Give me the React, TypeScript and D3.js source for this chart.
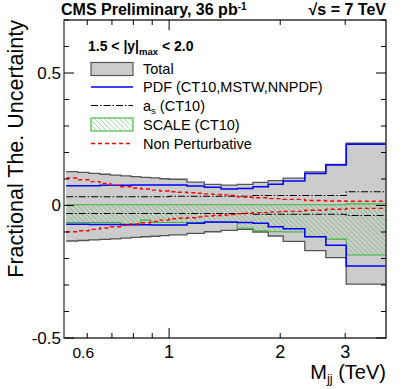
import React from "react";
import * as d3 from "d3";

// bin edges of the dijet mass (TeV)
const binEdges = [
  0.526, 0.565, 0.606, 0.649, 0.693, 0.74, 0.788, 0.838, 0.89, 0.944, 1.0,
  1.058, 1.118, 1.181, 1.246, 1.313, 1.383, 1.455, 1.53, 1.607, 1.687, 1.856,
  2.037, 2.332, 2.659, 3.019, 3.854,
];

const totalUp = [
  0.128, 0.125, 0.121, 0.118, 0.115, 0.112, 0.109, 0.106, 0.104, 0.101, 0.099,
  0.099, 0.088, 0.088, 0.08, 0.08, 0.077, 0.077, 0.08, 0.08, 0.087, 0.094,
  0.103, 0.127, 0.155, 0.235,
];
const totalDown = [
  -0.134, -0.132, -0.13, -0.128, -0.126, -0.123, -0.12, -0.118, -0.116, -0.114,
  -0.111, -0.111, -0.105, -0.105, -0.099, -0.099, -0.094, -0.094, -0.09, -0.09,
  -0.1, -0.115, -0.135, -0.17, -0.197, -0.297,
];
const pdfUp = [
  0.075, 0.075, 0.075, 0.076, 0.076, 0.076, 0.077, 0.077, 0.077, 0.077, 0.077,
  0.077, 0.074, 0.074, 0.069, 0.069, 0.062, 0.062, 0.064, 0.064, 0.071, 0.08,
  0.092, 0.121, 0.153, 0.231,
];
const pdfDown = [
  -0.071, -0.071, -0.072, -0.072, -0.072, -0.073, -0.073, -0.073, -0.074,
  -0.074, -0.074, -0.074, -0.067, -0.067, -0.062, -0.062, -0.062, -0.062,
  -0.064, -0.064, -0.067, -0.08, -0.088, -0.118, -0.15, -0.228,
];
const asUp = [
  0.033, 0.033, 0.033, 0.033, 0.033, 0.033, 0.033, 0.033, 0.033, 0.033, 0.035,
  0.035, 0.035, 0.035, 0.035, 0.035, 0.035, 0.035, 0.035, 0.035, 0.038, 0.038,
  0.038, 0.038, 0.038, 0.052,
];
const asDown = [
  -0.03, -0.03, -0.03, -0.03, -0.03, -0.03, -0.03, -0.03, -0.03, -0.03, -0.03,
  -0.03, -0.03, -0.03, -0.03, -0.03, -0.03, -0.03, -0.03, -0.03, -0.033,
  -0.033, -0.033, -0.033, -0.033, -0.038,
];
const scaleUp = [
  0.003, 0.003, 0.003, 0.003, 0.003, 0.003, 0.003, 0.003, 0.003, 0.003, 0.003,
  0.003, 0.003, 0.003, 0.003, 0.003, 0.003, 0.003, 0.003, 0.003, 0.003, 0.003,
  0.003, 0.003, 0.003, 0.006,
];
const scaleDown = [
  -0.064, -0.064, -0.064, -0.064, -0.064, -0.07, -0.07, -0.055, -0.064, -0.064,
  -0.064, -0.064, -0.064, -0.064, -0.064, -0.064, -0.064, -0.064, -0.086,
  -0.086, -0.095, -0.099, -0.1, -0.118, -0.127, -0.187,
];
const npUp = [
  0.104, 0.097, 0.09, 0.083, 0.076, 0.071, 0.066, 0.062, 0.058, 0.055, 0.052,
  0.05, 0.048, 0.046, 0.044, 0.042, 0.04, 0.038, 0.033, 0.031, 0.029, 0.026,
  0.023, 0.019, 0.017, 0.016,
];
const npDown = [
  -0.099, -0.095, -0.09, -0.085, -0.08, -0.075, -0.07, -0.065, -0.06, -0.055,
  -0.05, -0.048, -0.046, -0.043, -0.04, -0.038, -0.036, -0.034, -0.031, -0.029,
  -0.027, -0.024, -0.022, -0.018, -0.014, -0.011,
];

const xLabelsBig = [1, 2, 3];
const xLabelsSmall = [0.6];
const xMinorTicks = [0.6, 0.7, 0.8, 0.9, 2, 3];
const xMajorTicks = [1];
const yLabels = [-0.5, 0, 0.5];

const W = 406;
const H = 389;
const left = 64;
const right = 386;
const top = 20;
const bottom = 338;
const font = "'Liberation Sans', Arial, Helvetica, sans-serif";

type Pt = [number, number];

// turn per-bin values into a step outline
function steps(vals: number[]): Pt[] {
  const pts: Pt[] = [];
  vals.forEach((v, i) => {
    pts.push([binEdges[i], v]);
    pts.push([binEdges[i + 1], v]);
  });
  return pts;
}

export default function App() {
  const x = d3.scaleLog().domain([0.519, 3.87]).range([left, right]);
  const y = d3.scaleLinear().domain([-0.5, 0.7]).range([bottom, top]);

  const line = d3
    .line<Pt>()
    .x((d) => x(d[0]))
    .y((d) => y(d[1]));

  const band = (lo: number[], hi: number[]) => {
    const pl = steps(lo);
    const ph = steps(hi);
    return d3
      .area<number>()
      .x((i) => x(pl[i][0]))
      .y0((i) => y(pl[i][1]))
      .y1((i) => y(ph[i][1]))(d3.range(pl.length));
  };

  const yTicks = d3.range(-5, 8).map((k) => k / 10);

  const legX = 91;
  const legTx = 143;
  const legRows = [69, 87, 105.5, 124.5, 143.5];

  return (
    <svg
      width={W}
      height={H}
      style={{ position: "absolute", left: 0, top: 0, background: "#fff" }}
      fontFamily={font}
    >
      <defs>
        <clipPath id="plot">
          <rect x={left} y={top} width={right - left} height={bottom - top} />
        </clipPath>
        <pattern
          id="hatch"
          patternUnits="userSpaceOnUse"
          width="3.5"
          height="3.5"
          patternTransform="rotate(-45)"
        >
          <line x1="0" y1="0" x2="0" y2="3.5" stroke="#3cb43c" strokeWidth="0.8" />
        </pattern>
      </defs>

      <g clipPath="url(#plot)">
        {/* total */}
        <path d={band(totalDown, totalUp) || ""} fill="#cccccc" />
        <path d={line(steps(totalUp)) || ""} fill="none" stroke="#555" strokeWidth={1.3} />
        <path d={line(steps(totalDown)) || ""} fill="none" stroke="#555" strokeWidth={1.3} />

        {/* scale */}
        <path d={band(scaleDown, scaleUp) || ""} fill="url(#hatch)" />
        <path d={line(steps(scaleUp)) || ""} fill="none" stroke="#3cb43c" strokeWidth={1.1} />
        <path d={line(steps(scaleDown)) || ""} fill="none" stroke="#3cb43c" strokeWidth={1.1} />

        {/* pdf */}
        <path d={line(steps(pdfUp)) || ""} fill="none" stroke="#0000ff" strokeWidth={1.5} />
        <path d={line(steps(pdfDown)) || ""} fill="none" stroke="#0000ff" strokeWidth={1.5} />

        {/* alpha_s */}
        <path d={line(steps(asUp)) || ""} fill="none" stroke="#000" strokeWidth={1.1} strokeDasharray="7,2,1.5,2" />
        <path d={line(steps(asDown)) || ""} fill="none" stroke="#000" strokeWidth={1.1} strokeDasharray="7,2,1.5,2" />

        {/* non perturbative */}
        <path d={line(steps(npUp)) || ""} fill="none" stroke="#ff0000" strokeWidth={1.4} strokeDasharray="4,3" />
        <path d={line(steps(npDown)) || ""} fill="none" stroke="#ff0000" strokeWidth={1.4} strokeDasharray="4,3" />
      </g>

      {/* frame */}
      <rect x={left} y={top} width={right - left} height={bottom - top} fill="none" stroke="#000" strokeWidth={1.2} />
      <line x1={left} x2={left} y1={top} y2={bottom} stroke="#888" strokeWidth={1.6} />

      {/* y ticks */}
      {yTicks.map((t) => {
        const len = Math.abs(t * 2 - Math.round(t * 2)) < 1e-6 ? 10 : 5;
        return (
          <g key={"y" + t}>
            <line x1={left} x2={left + len} y1={y(t)} y2={y(t)} stroke="#000" />
            <line x1={right} x2={right - len} y1={y(t)} y2={y(t)} stroke="#000" />
          </g>
        );
      })}
      {yLabels.map((t) => (
        <text key={"yl" + t} x={61} y={y(t)} dy="0.35em" textAnchor="end" fontSize={17}>
          {t === 0 ? "0" : String(t)}
        </text>
      ))}

      {/* x ticks */}
      {xMinorTicks.map((t) => (
        <g key={"xm" + t}>
          <line x1={x(t)} x2={x(t)} y1={bottom} y2={bottom - 5} stroke="#000" />
          <line x1={x(t)} x2={x(t)} y1={top} y2={top + 5} stroke="#000" />
        </g>
      ))}
      {xMajorTicks.map((t) => (
        <g key={"xM" + t}>
          <line x1={x(t)} x2={x(t)} y1={bottom} y2={bottom - 10} stroke="#000" />
          <line x1={x(t)} x2={x(t)} y1={top} y2={top + 10} stroke="#000" />
        </g>
      ))}
      {xLabelsBig.map((t) => (
        <text key={"xl" + t} x={x(t)} y={358} textAnchor="middle" fontSize={18}>
          {t}
        </text>
      ))}
      {xLabelsSmall.map((t) => (
        <text key={"xs" + t} x={x(t) - 4} y={358} textAnchor="middle" fontSize={15.5}>
          {t}
        </text>
      ))}

      {/* axis titles */}
      <text x={right} y={379} textAnchor="end" fontSize={20}>
        M<tspan fontSize={13} dy={4}>jj</tspan>
        <tspan dy={-4}> (TeV)</tspan>
      </text>
      <text transform={`translate(23,${top}) rotate(-90)`} textAnchor="end" fontSize={21.5}>
        Fractional The. Uncertainty
      </text>

      {/* header */}
      <text x={61} y={15} fontSize={16} fontWeight="bold">
        CMS Preliminary, 36 pb<tspan fontSize={10} dy={-5}>-1</tspan>
      </text>
      <text x={386} y={15} textAnchor="end" fontSize={16} fontWeight="bold">
        √s = 7 TeV
      </text>

      {/* legend */}
      <text x={88} y={51} fontSize={14} fontWeight="bold">
        1.5 &lt; |y|<tspan fontSize={9.5} dy={4}>max</tspan>
        <tspan dy={-4}> &lt; 2.0</tspan>
      </text>
      <rect x={legX} y={legRows[0] - 6.5} width={42} height={13} fill="#cccccc" stroke="#555" strokeWidth={1.2} />
      <line x1={legX} x2={legX + 42} y1={legRows[1]} y2={legRows[1]} stroke="#0000ff" strokeWidth={1.5} />
      <line x1={legX} x2={legX + 42} y1={legRows[2]} y2={legRows[2]} stroke="#000" strokeWidth={1.1} strokeDasharray="7,2,1.5,2" />
      <rect x={legX} y={legRows[3] - 6.5} width={42} height={13} fill="url(#hatch)" stroke="#3cb43c" strokeWidth={1.1} />
      <line x1={legX} x2={legX + 42} y1={legRows[4]} y2={legRows[4]} stroke="#ff0000" strokeWidth={1.4} strokeDasharray="4,3" />
      {[
        "Total",
        "PDF (CT10,MSTW,NNPDF)",
        null,
        "SCALE (CT10)",
        "Non Perturbative",
      ].map((s, i) =>
        s ? (
          <text key={"lg" + i} x={legTx} y={legRows[i]} dy="0.36em" fontSize={14.5}>
            {s}
          </text>
        ) : (
          <text key={"lg" + i} x={legTx} y={legRows[i]} dy="0.36em" fontSize={14.5}>
            a<tspan fontSize={9.5} dy={3}>s</tspan>
            <tspan dy={-3}> (CT10)</tspan>
          </text>
        )
      )}
    </svg>
  );
}
